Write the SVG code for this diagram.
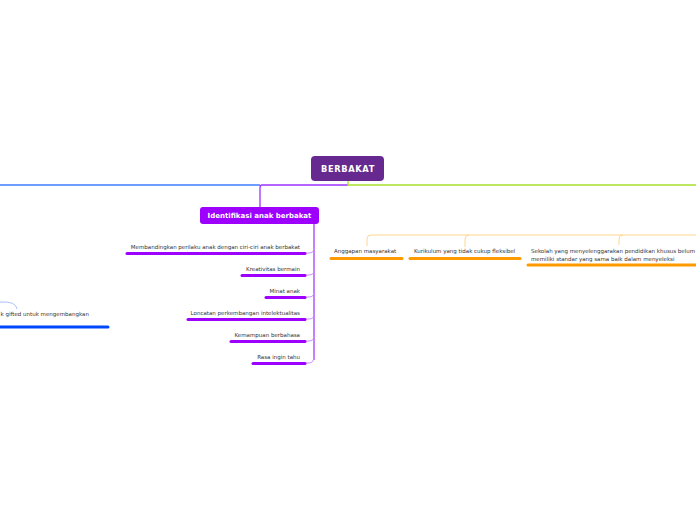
<svg xmlns="http://www.w3.org/2000/svg" width="696" height="520" viewBox="0 0 696 520">
<style>
.t{font-family:"DejaVu Sans","Liberation Sans",sans-serif;font-size:5.5px;fill:#333}
.tr{text-anchor:end}
.pu{stroke:#9d00ff;stroke-width:3;stroke-linecap:round;fill:none}
.pc{stroke:#c98cff;stroke-width:1;fill:none}
.ou{stroke:#ff9900;stroke-width:3;stroke-linecap:round;fill:none}
.oc{stroke:#ffd690;stroke-width:1;fill:none}
</style>
<rect width="696" height="520" fill="#fff"/>
<g id="connectors">
<line x1="0" y1="185" x2="260" y2="185" stroke="#3d7cff" stroke-width="1.3"/>
<path d="M348 185 H262 Q260 185 260 188 V207" stroke="#9d33ff" stroke-width="1.3" fill="none"/>
<path d="M348 181 V185 H696" stroke="#a8e02a" stroke-width="1.3" fill="none"/>
<path d="M314 224 V360" stroke="#a43dff" stroke-width="1.3" fill="none"/>
<path d="M314 248 Q314 253 309 253 H305" class="pc"/>
<path d="M314 270 Q314 275 309 275 H305" class="pc"/>
<path d="M314 292 Q314 297 309 297 H305" class="pc"/>
<path d="M314 314 Q314 319 309 319 H305" class="pc"/>
<path d="M314 336 Q314 341 309 341 H305" class="pc"/>
<path d="M314 356 Q314 363 309 363 H305" class="pc"/>
<path d="M696 235 H371 Q367 235 367 239 V246" class="oc"/>
<path d="M469 235 Q465 235 465 239 V247" class="oc"/>
<path d="M623 235 Q619 235 619 239 V245" class="oc"/>
<path d="M0 302 Q16 301 17 309" stroke="#8fb0ff" stroke-width="0.8" fill="none"/>
</g>
<g id="central">
<rect x="311" y="156" width="73" height="25" rx="4" fill="#65298f"/>
<text x="348" y="172" text-anchor="middle" font-family="DejaVu Sans, sans-serif" font-weight="bold" font-size="8.3" letter-spacing="0.6" fill="#fff">BERBAKAT</text>
</g>
<g id="identifikasi">
<rect x="200" y="207" width="119" height="17" rx="3" fill="#9d00ff"/>
<text x="259.5" y="218.3" text-anchor="middle" font-family="DejaVu Sans, sans-serif" font-weight="bold" font-size="7" fill="#fff">Identifikasi anak berbakat</text>
</g>
<g id="n1"><text class="t tr" x="300" y="249">Membandingkan perilaku anak dengan ciri-ciri anak berbakat</text><line class="pu" x1="127" y1="253.5" x2="305" y2="253.5"/></g>
<g id="n2"><text class="t tr" x="300" y="271">Kreativitas bermain</text><line class="pu" x1="242" y1="275.5" x2="305" y2="275.5"/></g>
<g id="n3"><text class="t tr" x="300" y="293">Minat anak</text><line class="pu" x1="266" y1="297.5" x2="305" y2="297.5"/></g>
<g id="n4"><text class="t tr" x="300" y="315">Loncatan perkembangan intelektualitas</text><line class="pu" x1="188" y1="319.5" x2="305" y2="319.5"/></g>
<g id="n5"><text class="t tr" x="300" y="337">Kemampuan berbahasa</text><line class="pu" x1="231" y1="341.5" x2="305" y2="341.5"/></g>
<g id="n6"><text class="t tr" x="300" y="359">Rasa ingin tahu</text><line class="pu" x1="253" y1="363.5" x2="305" y2="363.5"/></g>
<g id="gifted"><text class="t" x="0.5" y="316">k gifted untuk mengembangkan</text><line x1="0" y1="327" x2="108" y2="327" stroke="#0047ff" stroke-width="3" stroke-linecap="round"/></g>
<g id="o1"><text class="t" x="334" y="253">Anggapan masyarakat</text><line class="ou" x1="331" y1="258.5" x2="402" y2="258.5"/></g>
<g id="o2"><text class="t" x="414" y="253">Kurikulum yang tidak cukup fleksibel</text><line class="ou" x1="410" y1="258.5" x2="520" y2="258.5"/></g>
<g id="o3"><text class="t" x="531" y="253">Sekolah yang menyelenggarakan pendidikan khusus belum</text><text class="t" x="531" y="260.5">memiliki standar yang sama baik dalam menyeleksi</text><line class="ou" x1="528" y1="265" x2="698" y2="265"/></g>
</svg>
